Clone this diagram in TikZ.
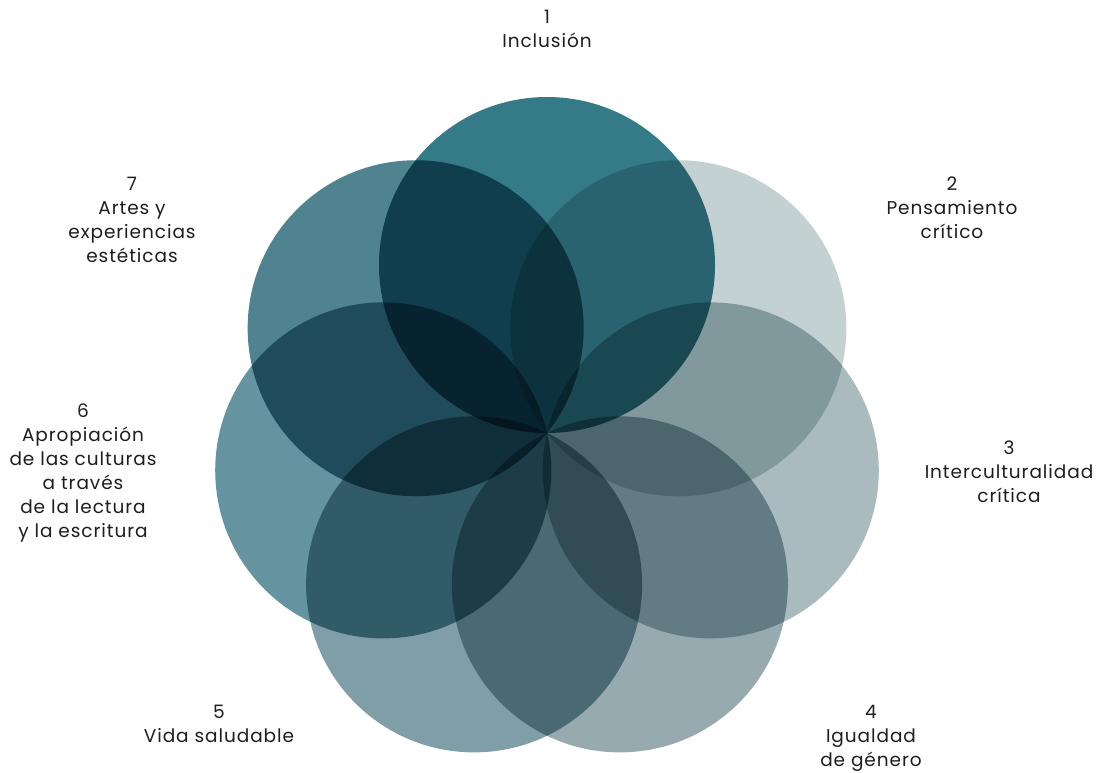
\documentclass[tikz,border=0pt]{standalone}
\usepackage{fontspec}
\setmainfont[LetterSpace=5]{Poppins}
\usetikzlibrary{calc}
\definecolor{cA}{HTML}{357A87}
\definecolor{cB}{HTML}{C3D1D3}
\definecolor{cC}{HTML}{A9BBBE}
\definecolor{cD}{HTML}{96AAB0}
\definecolor{cE}{HTML}{7F9EA7}
\definecolor{cF}{HTML}{6593A0}
\definecolor{cG}{HTML}{4F8390}
\definecolor{txt}{HTML}{1E1E1E}
\begin{document}
\begin{tikzpicture}[x=1pt,y=-1pt,
  petal/.style={blend mode=multiply},
  lbl/.style={align=center,text=txt,font=\fontsize{18.5}{24}\selectfont,inner sep=0pt,anchor=north}]
\fill[white] (0,0) rectangle (1101,772);
\useasboundingbox (0,0) rectangle (1101,772);
\coordinate (o) at (547,433);
\foreach \i/\c in {0/cA,1/cB,2/cC,3/cD,4/cE,5/cF,6/cG}{
  \pgfmathsetmacro{\ang}{90-\i*360/7}
  \fill[petal,\c] ($(o)+({168*cos(\ang)},{-168*sin(\ang)})$) circle (168);
}
\node[lbl] (t1) at (547,10) {1\\Inclusión};
\node[lbl] (t2) at (952,177) {2\\Pensamiento\\crítico};
\node[lbl] (t3) at (1009,441) {3\\Interculturalidad\\crítica};
\node[lbl] (t4) at (871,705) {4\\Igualdad\\de género};
\node[lbl] (t5) at (219,705) {5\\Vida saludable};
\node[lbl] (t6) at (83,404) {6\\Apropiación\\de las culturas\\a través\\de la lectura\\y la escritura};
\node[lbl] (t7) at (132,177) {7\\Artes y\\experiencias\\estéticas};
\end{tikzpicture}
\end{document}
